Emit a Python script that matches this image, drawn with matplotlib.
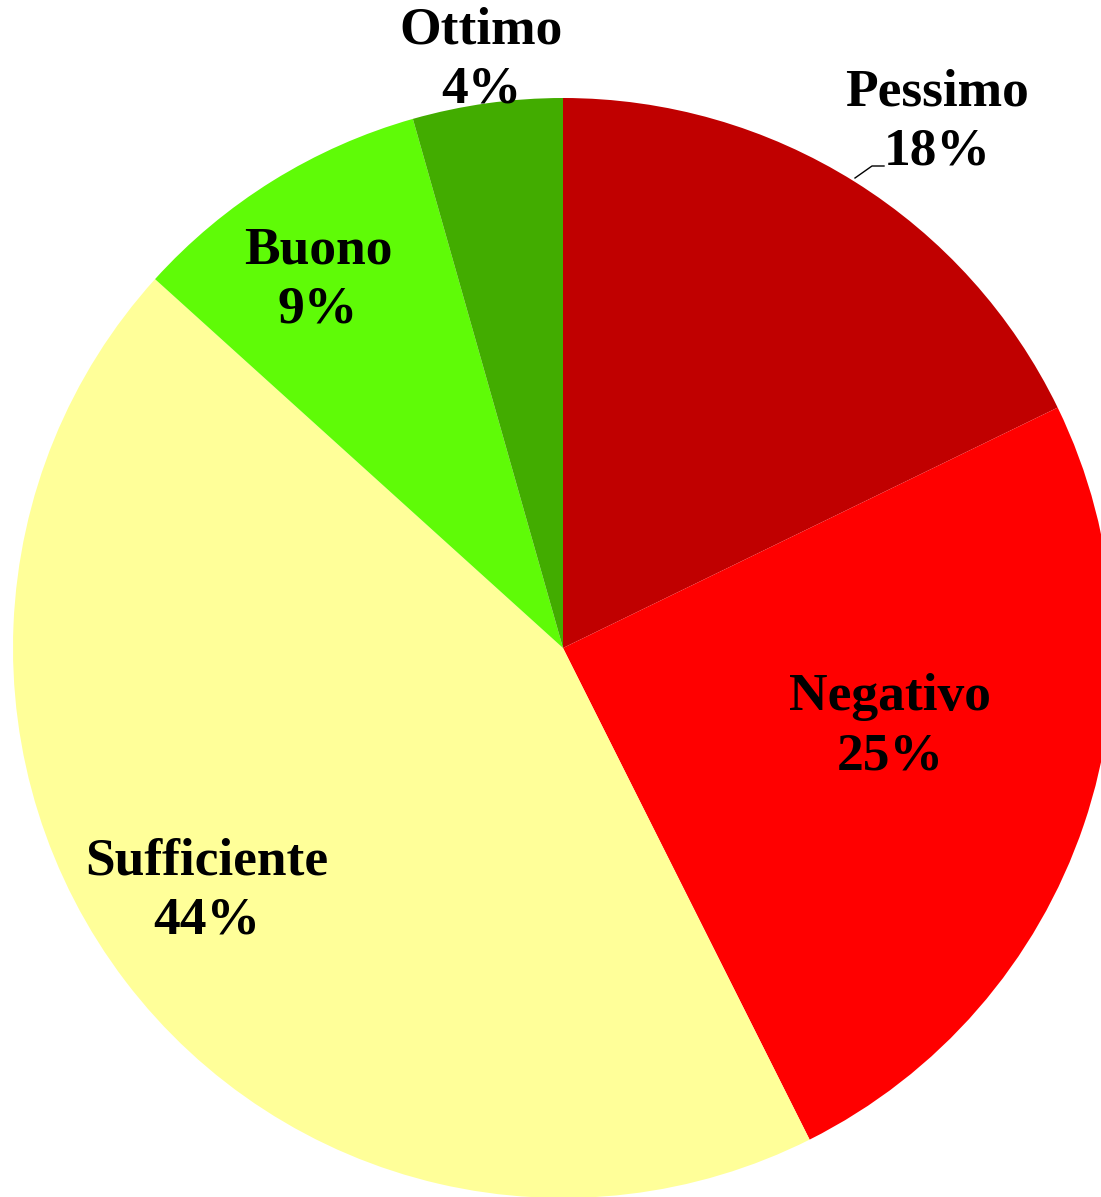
import matplotlib
matplotlib.use("Agg")
import matplotlib.pyplot as plt

categories = ["Pessimo", "Negativo", "Sufficiente", "Buono", "Ottimo"]
values = [17.8, 24.8, 44.1, 8.9, 4.4]
pct_labels = ["18%", "25%", "44%", "9%", "4%"]
colors = ["#C00000", "#FF0000", "#FFFF99", "#5FFB07", "#42AC00"]

W, H = 1101, 1197
CX, CY, R = 563, 648, 550

def px(x, y):
    return ((x - CX) / R, (CY - y) / R)

fig = plt.figure(figsize=(W / 100, H / 100), dpi=100)
ax = fig.add_axes([0, 0, 1, 1])
ax.pie(values, colors=colors, startangle=90, counterclock=False,
       radius=1.0, center=(0, 0), wedgeprops=dict(linewidth=0),
       frame=True)
ax.set_xlim(-CX / R, (W - CX) / R)
ax.set_ylim(-(H - CY) / R, CY / R)
ax.set_aspect("auto")
ax.axis("off")

label_pos = [(937, 122), (890, 727), (207, 891), (318, 280), (481, 60)]
font = dict(family="Liberation Serif", weight="bold", size=38.5)
for cat, p, (lx, ly) in zip(categories, pct_labels, label_pos):
    x, y = px(lx, ly)
    ax.text(x, y, f"{cat}\n{p}", ha="center", va="center",
            linespacing=1.32, color="black", **font)

# leader line for Pessimo
lx0, ly0 = px(855, 178)
lx1, ly1 = px(872, 166)
lx2, ly2 = px(884, 166)
ax.plot([lx0, lx1, lx2], [ly0, ly1, ly2], color="black", linewidth=1)

fig.savefig("out.png", dpi=100)
